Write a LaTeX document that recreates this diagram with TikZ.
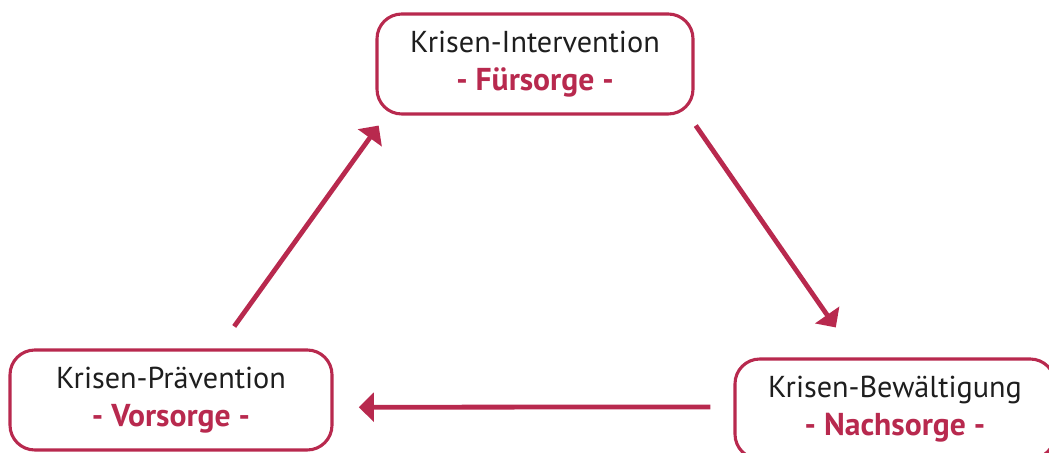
\documentclass[tikz,border=0pt]{standalone}
\usepackage{fontspec}
\setmainfont{PT Sans}
\usetikzlibrary{positioning, arrows.meta}
\definecolor{kred}{HTML}{B8294E}
\definecolor{ktext}{HTML}{1E1E1E}

\tikzset{
    phase/.style={draw=kred, line width=2.2pt, rounded corners=0.62cm, fill=white,
        minimum width=8cm, minimum height=2.5cm, align=center, text=ktext,
        font=\fontsize{21.5}{27.5}\selectfont},
    flow/.style={kred, line width=3.4pt, -{Triangle[length=0.38cm, width=0.72cm]}}
}
\newcommand{\sorge}[1]{\textcolor{kred}{\fontsize{22.5}{27.5}\selectfont\bfseries - #1 -}}

\begin{document}
\begin{tikzpicture}
        \useasboundingbox (0,0) rectangle (26.225,-11.325);

        % phases
        \node[phase, minimum width=7.9cm] (interv) at (13.375,-1.6) {Krisen-Intervention\\ \sorge{Fürsorge}};
        \node[phase, minimum width=8.05cm] (praev) at (4.275,-10) {Krisen-Prävention\\ \sorge{Vorsorge}};
        \node[phase] (bewaelt) at (22.375,-10.225) {Krisen-Bewältigung\\ \sorge{Nachsorge}};

        % cycle
        \draw[flow] ([xshift=1.58cm, yshift=0.55cm]praev.north) -- ([xshift=0.08cm, yshift=-0.25cm]interv.south west);
        \draw[flow] ([xshift=0.03cm, yshift=-0.25cm]interv.south east) -- ([xshift=-1.48cm, yshift=0.75cm]bewaelt.north);
        \draw[flow] ([xshift=-0.58cm, yshift=0.05cm]bewaelt.west) -- ([xshift=0.63cm, yshift=-0.18cm]praev.east);
\end{tikzpicture}
\end{document}
